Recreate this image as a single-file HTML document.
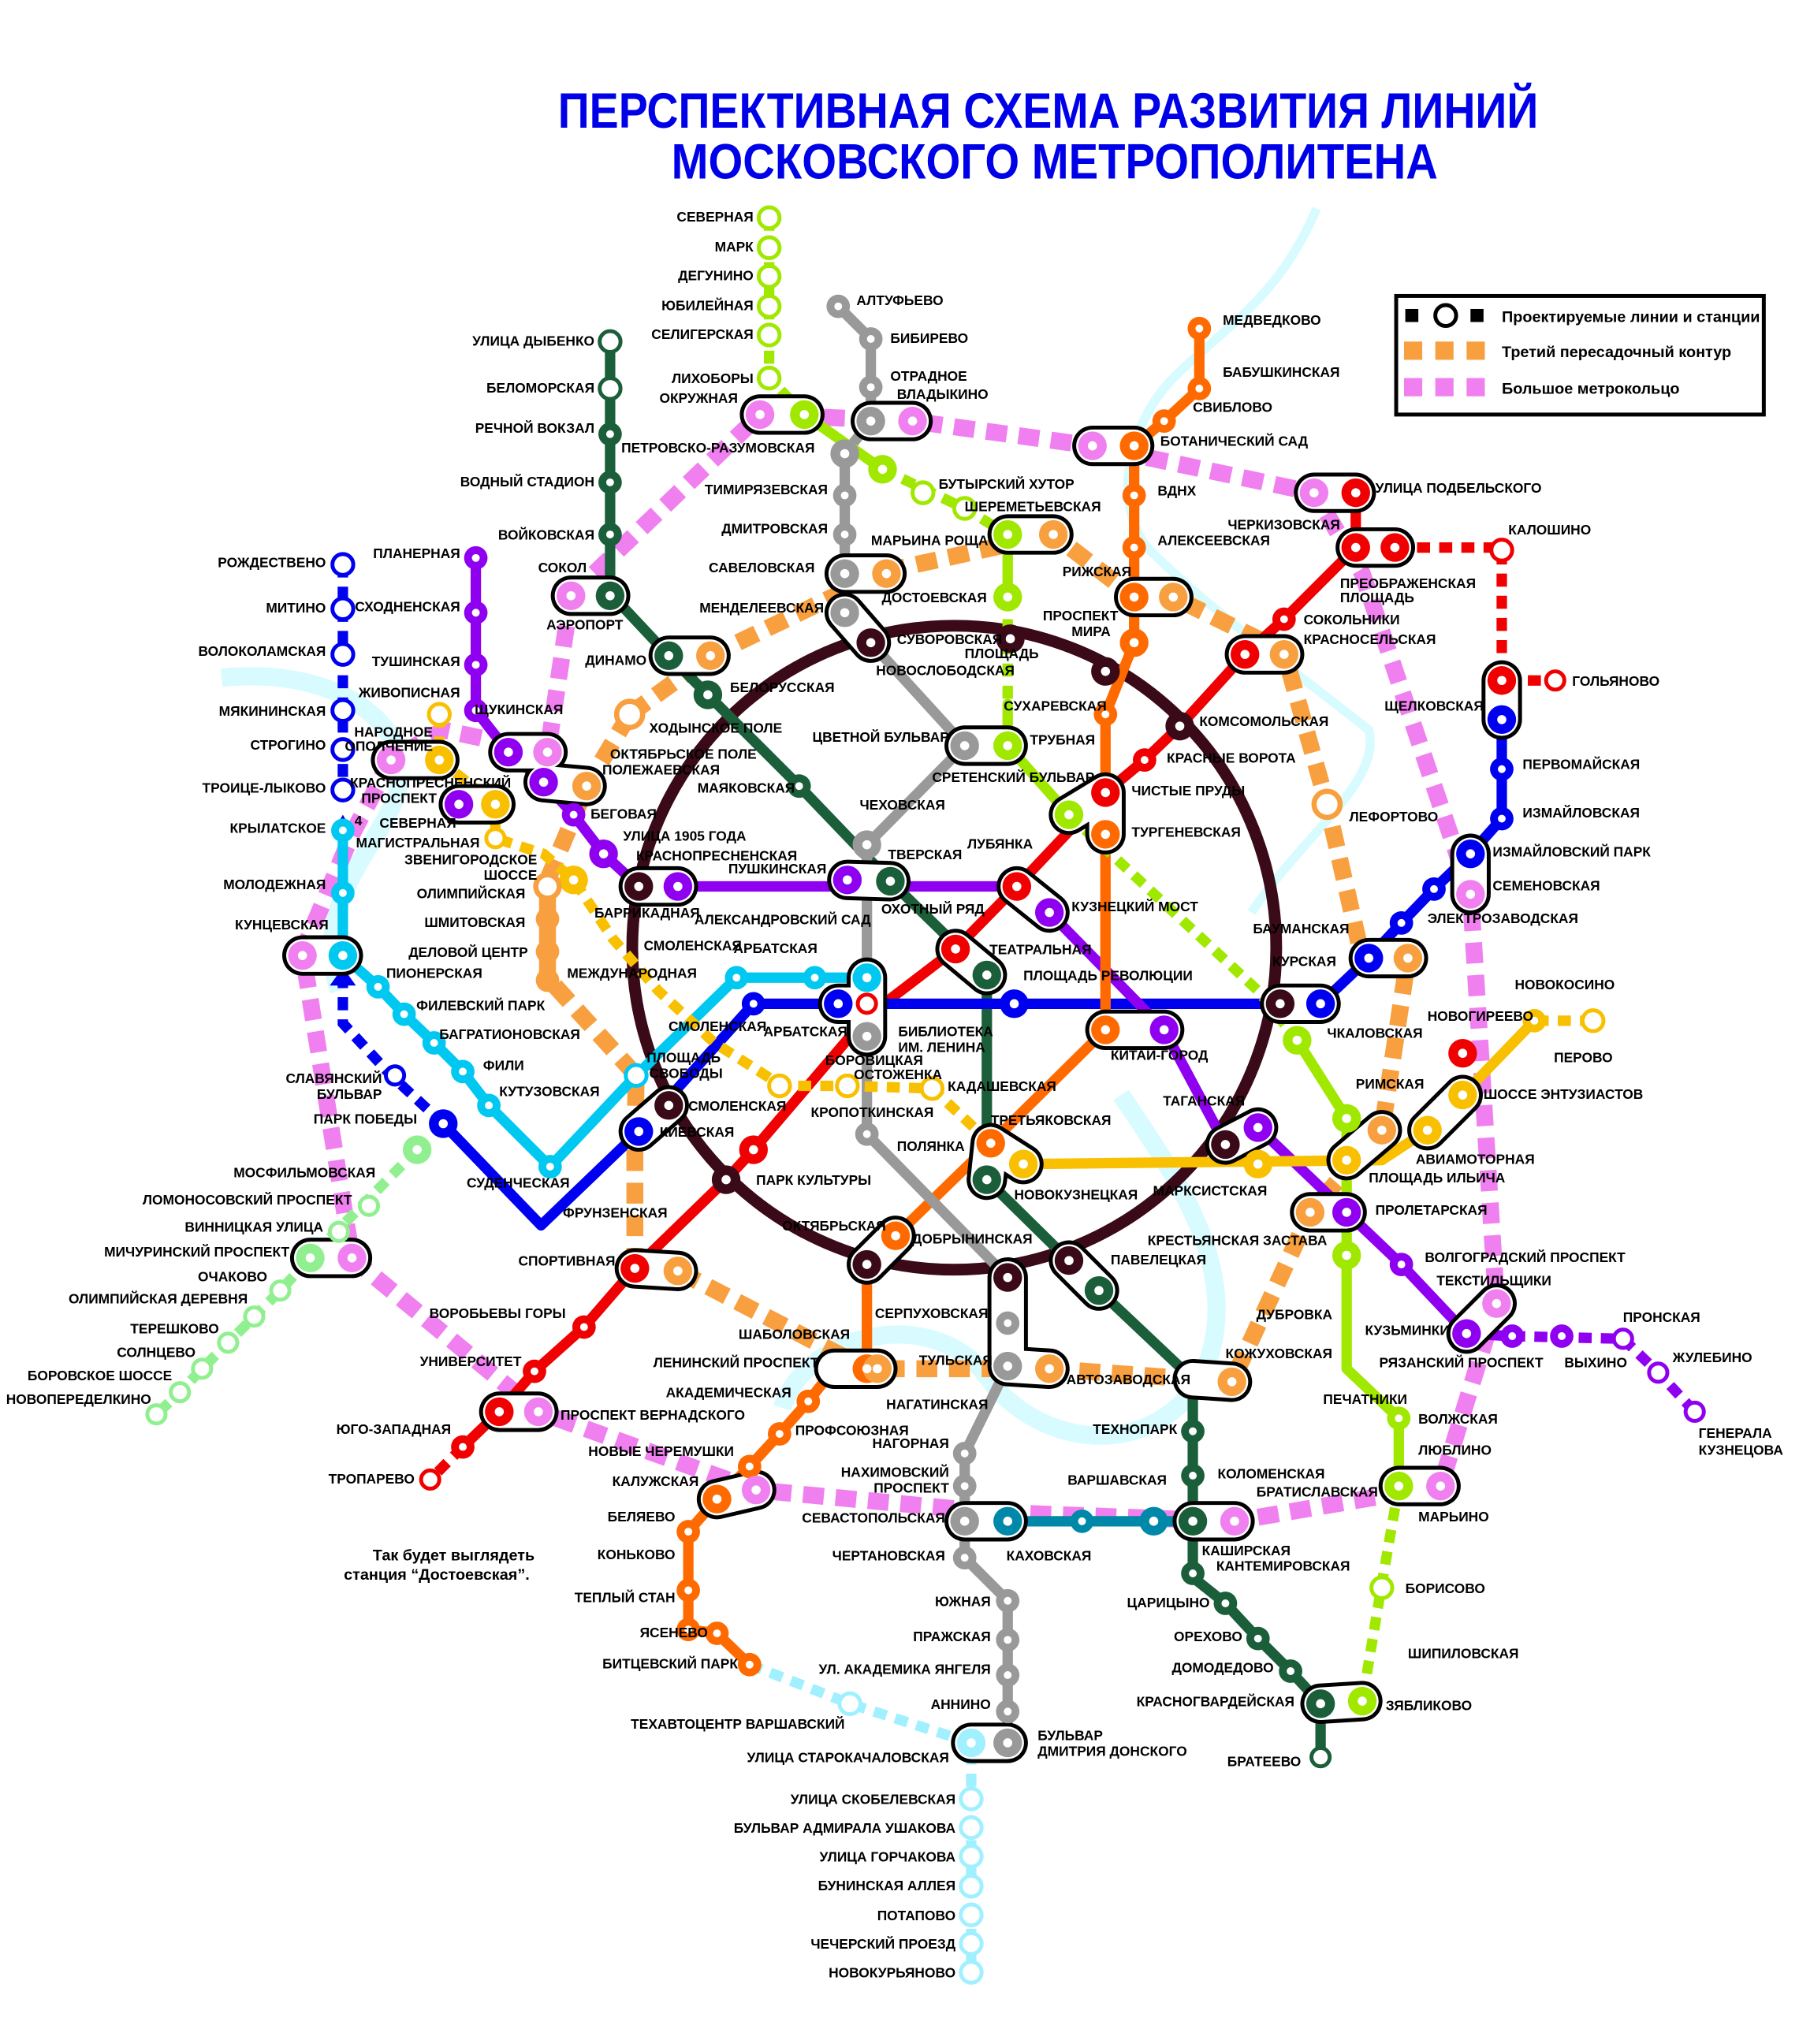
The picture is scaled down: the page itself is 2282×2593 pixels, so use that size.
<!DOCTYPE html>
<html><head><meta charset="utf-8">
<style>
html,body{margin:0;padding:0;background:#fff}
svg{display:block}
.l{fill:none;stroke-width:8;stroke-linecap:round;stroke-linejoin:round}
.d{fill:none;stroke-width:8;stroke-dasharray:10 7}
.rg{fill:none;stroke-width:13;stroke-dasharray:16 9}
text{font-family:"Liberation Sans Narrow","Liberation Sans",sans-serif;font-weight:bold;font-size:10.5px;fill:#000}
.e{text-anchor:end}
.tr{fill:none;stroke:#000;stroke-width:31;stroke-linecap:round;stroke-linejoin:round}
.tw{fill:none;stroke:#fff;stroke-width:25;stroke-linecap:round;stroke-linejoin:round}
.w{fill:#fff}
</style></head><body>
<svg width="2282" height="2593" viewBox="0 0 1380 1568" xmlns="http://www.w3.org/2000/svg">
<!-- river -->
<path d="M1010,160 C980,230 940,250 900,290 C870,320 850,380 880,420 C930,470 1000,520 1050,560 C1060,600 1000,640 960,700" fill="none" stroke="#d8fbff" stroke-width="7"/>
<path d="M170,520 C260,510 330,560 300,620 C280,660 240,700 260,760 M860,840 C900,900 960,980 920,1060 C880,1120 800,1110 760,1060 M760,1060 C720,1000 620,1020 600,1080" fill="none" stroke="#d8fbff" stroke-width="14"/>

<!-- Title -->
<text x="428" y="98" textLength="752" lengthAdjust="spacingAndGlyphs" style="font-size:38px;fill:#0000e8;font-family:'Liberation Sans Narrow','Liberation Sans',sans-serif">ПЕРСПЕКТИВНАЯ СХЕМА РАЗВИТИЯ ЛИНИЙ</text>
<text x="515" y="137" textLength="588" lengthAdjust="spacingAndGlyphs" style="font-size:38px;fill:#0000e8;font-family:'Liberation Sans Narrow','Liberation Sans',sans-serif">МОСКОВСКОГО МЕТРОПОЛИТЕНА</text>

<!-- Legend -->
<rect x="1071" y="227" width="282" height="91" fill="#fff" stroke="#000" stroke-width="3"/>
<rect x="1078" y="237" width="10" height="10" fill="#000"/><circle cx="1109" cy="242" r="8" fill="#fff" stroke="#000" stroke-width="3"/><rect x="1128" y="237" width="10" height="10" fill="#000"/>
<text x="1152" y="247" style="font-size:12px;font-family:'Liberation Sans',sans-serif">Проектируемые линии и станции</text>
<rect x="1077" y="262" width="14" height="14" fill="#f8a040"/><rect x="1101" y="262" width="14" height="14" fill="#f8a040"/><rect x="1125" y="262" width="14" height="14" fill="#f8a040"/>
<text x="1152" y="274" style="font-size:12px;font-family:'Liberation Sans',sans-serif">Третий пересадочный контур</text>
<rect x="1077" y="290" width="14" height="14" fill="#f080f0"/><rect x="1101" y="290" width="14" height="14" fill="#f080f0"/><rect x="1125" y="290" width="14" height="14" fill="#f080f0"/>
<text x="1152" y="302" style="font-size:12px;font-family:'Liberation Sans',sans-serif">Большое метрокольцо</text>

<!-- Big ring (pink) -->
<path class="rg" stroke="#f080f0" d="M438,457 L583,318 L700,323 L838,342 L1008,378 L1045,440 L1128,686 L1148,1000 L1105,1140 L947,1167 L760,1160 L580,1143 L413,1083 L270,965 L232,730 L270,640 L300,583 L340,560 L420,577 L438,457"/>
<!-- Third contour -->
<path class="rg" stroke="#f8a040" d="M483,548 L545,503 L680,438 L808,410 L870,458 L900,458 L985,500 L1018,617 L1045,735 L1080,735 L1060,867 L1005,930 L945,1060 L805,1050 L665,1050 L520,975 L487,973 L487,880 L488,825 L420,750 L420,675 L450,603 L483,548"/>

<!-- Brown ring -->
<circle cx="732" cy="727" r="247" fill="none" stroke="#3a0a18" stroke-width="9"/>

<!-- Lines -->
<path class="l" stroke="#1b5e3a" d="M468,262 L468,455 L513,503 L543,533 L613,603 L683,676 L757,748 L757,905 L820,967 L843,990 L915,1058 L915,1170 L915,1210 L940,1230 L965,1257 L990,1282 L1013,1307 L1013,1348"/>
<path class="l" stroke="#f00000" d="M1040,378 L1040,420 L985,475 L955,502 L905,557 L878,583 L848,608 L780,680 L733,728 L665,780 L578,882 L557,905 L487,973 L448,1018 L410,1052 L383,1083 L355,1110"/>
<path class="d" stroke="#f00000" d="M1070,420 L1152,420 L1152,522 L1193,522 M355,1110 L330,1135"/>
<path class="l" stroke="#0000f0" d="M1152,522 L1152,590 L1152,628 L1128,655 L1100,682 L1075,708 L1050,735 L1013,770 L578,770 L490,868 L415,940 L340,862"/>
<path class="d" stroke="#0000f0" d="M340,862 L300,825 L263,785 L263,755 M263,433 L263,608"/>
<path d="M263,742 l-10,14 h20z" fill="#0000f0"/>
<path d="M263,625 l-7,12 h14z" fill="#0000f0"/>
<path class="l" stroke="#00c8f0" d="M263,637 L263,733 L290,757 L310,778 L333,800 L355,822 L375,848 L422,895 L488,825 L565,750 L625,750 L665,750"/>
<path class="l" stroke="#9000f0" d="M365,428 L365,545 L390,577 L417,600 L440,625 L463,655 L490,680 L650,680 L780,680 L805,700 L893,790 L940,878 L965,865 L1033,930 L1075,970 L1125,1023 L1160,1025"/>
<path class="d" stroke="#9000f0" d="M1160,1025 L1245,1027 L1272,1053 L1300,1083"/>
<path class="l" stroke="#ff6a00" d="M920,252 L920,298 L893,323 L870,342 L870,493 L848,548 L848,790 L760,877 L687,948 L665,970 L665,1050 L640,1050 L620,1075 L598,1100 L575,1125 L550,1150 L528,1175 L528,1250 L550,1253 L575,1277"/>
<path class="l" stroke="#999" d="M643,235 L668,260 L668,323 L648,348 L648,470 L668,493 L740,572 L665,648 L665,870 L773,980 L773,1048 L740,1115 L740,1195 L773,1228 L773,1337"/>
<path class="l" stroke="#a0e800" d="M617,318 L677,360 M773,410 L773,458 M773,540 L773,572 L820,625 M995,798 L1033,858 L1033,1050 L1073,1088 L1073,1140"/>
<path class="d" stroke="#a0e800" d="M590,167 L590,290 L617,318 M677,360 L740,390 L773,410 M773,458 L773,540 M820,625 L965,760 L995,798 M1073,1140 L1060,1215 L1045,1305"/>
<path class="l" stroke="#f8c000" d="M1177,783 L1122,840 L1095,867 L1060,890 L785,893 L760,877"/>
<path class="d" stroke="#f8c000" d="M1222,783 L1177,783 M337,548 L337,583 L380,617 L380,643 L417,655 L440,675 L470,720 L505,760 L548,800 L600,833 L650,833 L715,835 L760,877"/>
<path class="l" stroke="#0088a8" d="M740,1167 L915,1167"/>
<path class="d" stroke="#a0f0ff" d="M575,1277 L652,1307 L745,1337 L745,1512"/>
<path class="d" stroke="#90f090" d="M320,882 L238,965 L215,990 L195,1010 L175,1030 L155,1050 L138,1068 L120,1085"/>

<!-- Transfers (black outlines) -->
<g>
<path class="tr" d="M583,318 L617,318 M668,323 L700,323 M838,342 L870,342 M1008,378 L1040,378 M1040,420 L1070,420 M648,440 L680,440 M773,410 L808,410 M870,458 L900,458 M955,502 L985,502 M513,503 L545,503 M438,457 L468,457 M390,577 L420,577 M417,600 L450,603 M300,583 L337,583 M352,617 L380,617 M490,680 L520,680 M650,675 L683,676 M740,572 L773,572 M820,625 L848,608 M848,640 L848,608 M780,680 L805,700 M733,728 L757,748 M665,750 L665,795 M643,770 L665,770 M982,770 L1013,770 M1050,735 L1080,735 M893,790 L848,790 M940,878 L965,865 M760,877 L785,893 M757,905 L760,877 M668,493 L648,470 M1125,1023 L1148,1000 M1033,930 L1005,930 M1033,890 L1060,867 M1095,867 L1122,840 M687,948 L665,970 M773,980 L773,1048 M820,967 L843,990 M915,1058 L945,1060 M640,1050 L673,1050 M773,1048 L805,1050 M550,1150 L580,1143 M383,1083 L413,1083 M232,733 L263,733 M238,965 L270,965 M487,973 L520,975 M490,868 L513,848 M1073,1140 L1105,1140 M915,1167 L947,1167 M740,1167 L773,1167 M1013,1307 L1045,1305 M745,1337 L773,1337 M1152,522 L1152,552 M1128,655 L1128,686"/>
<path class="tw" d="M583,318 L617,318 M668,323 L700,323 M838,342 L870,342 M1008,378 L1040,378 M1040,420 L1070,420 M648,440 L680,440 M773,410 L808,410 M870,458 L900,458 M955,502 L985,502 M513,503 L545,503 M438,457 L468,457 M390,577 L420,577 M417,600 L450,603 M300,583 L337,583 M352,617 L380,617 M490,680 L520,680 M650,675 L683,676 M740,572 L773,572 M820,625 L848,608 M848,640 L848,608 M780,680 L805,700 M733,728 L757,748 M665,750 L665,795 M643,770 L665,770 M982,770 L1013,770 M1050,735 L1080,735 M893,790 L848,790 M940,878 L965,865 M760,877 L785,893 M757,905 L760,877 M668,493 L648,470 M1125,1023 L1148,1000 M1033,930 L1005,930 M1033,890 L1060,867 M1095,867 L1122,840 M687,948 L665,970 M773,980 L773,1048 M820,967 L843,990 M915,1058 L945,1060 M640,1050 L673,1050 M773,1048 L805,1050 M550,1150 L580,1143 M383,1083 L413,1083 M232,733 L263,733 M238,965 L270,965 M487,973 L520,975 M490,868 L513,848 M1073,1140 L1105,1140 M915,1167 L947,1167 M740,1167 L773,1167 M1013,1307 L1045,1305 M745,1337 L773,1337 M1152,522 L1152,552 M1128,655 L1128,686"/>
</g>

<!-- Stations -->
<g stroke-width="0">
<g fill="#1b5e3a"><circle cx="468" cy="333" r="9"/><circle cx="468" cy="370" r="9"/><circle cx="468" cy="410" r="9"/><circle cx="468" cy="457" r="11"/><circle cx="513" cy="503" r="11"/><circle cx="543" cy="533" r="11"/><circle cx="613" cy="603" r="9"/><circle cx="683" cy="676" r="11"/><circle cx="757" cy="748" r="11"/><circle cx="757" cy="905" r="11"/><circle cx="843" cy="990" r="11"/><circle cx="915" cy="1098" r="9"/><circle cx="915" cy="1132" r="9"/><circle cx="915" cy="1167" r="11"/><circle cx="915" cy="1207" r="9"/><circle cx="940" cy="1230" r="9"/><circle cx="965" cy="1257" r="9"/><circle cx="990" cy="1282" r="9"/><circle cx="1013" cy="1307" r="11"/></g>
<g fill="#fff" stroke="#1b5e3a" stroke-width="3"><circle cx="468" cy="262" r="8"/><circle cx="468" cy="298" r="8"/><circle cx="1013" cy="1348" r="7"/></g>
<g fill="#f00000"><circle cx="1040" cy="378" r="11"/><circle cx="1040" cy="420" r="11"/><circle cx="1070" cy="420" r="11"/><circle cx="985" cy="475" r="9"/><circle cx="955" cy="502" r="11"/><circle cx="878" cy="583" r="9"/><circle cx="848" cy="608" r="11"/><circle cx="780" cy="680" r="11"/><circle cx="733" cy="728" r="11"/><circle cx="578" cy="882" r="11"/><circle cx="487" cy="973" r="11"/><circle cx="448" cy="1018" r="9"/><circle cx="410" cy="1052" r="9"/><circle cx="383" cy="1083" r="11"/><circle cx="355" cy="1110" r="9"/><circle cx="1152" cy="522" r="11"/><circle cx="1122" cy="808" r="11"/></g>
<g fill="#fff" stroke="#f00000" stroke-width="3"><circle cx="1152" cy="422" r="8"/><circle cx="1193" cy="522" r="7"/><circle cx="330" cy="1135" r="7"/><circle cx="665" cy="770" r="7"/></g>
<g fill="#0000f0"><circle cx="1152" cy="552" r="11"/><circle cx="1152" cy="590" r="9"/><circle cx="1152" cy="628" r="9"/><circle cx="1128" cy="655" r="11"/><circle cx="1100" cy="682" r="9"/><circle cx="1075" cy="708" r="9"/><circle cx="1050" cy="735" r="11"/><circle cx="1013" cy="770" r="11"/><circle cx="778" cy="770" r="11"/><circle cx="643" cy="770" r="11"/><circle cx="578" cy="770" r="9"/><circle cx="490" cy="868" r="11"/><circle cx="340" cy="862" r="11"/></g>
<g fill="#fff" stroke="#0000f0" stroke-width="3"><circle cx="263" cy="433" r="8"/><circle cx="263" cy="467" r="8"/><circle cx="263" cy="502" r="8"/><circle cx="263" cy="545" r="8"/><circle cx="263" cy="575" r="8"/><circle cx="263" cy="606" r="8"/><circle cx="303" cy="825" r="7"/></g>
<g fill="#00c8f0"><circle cx="263" cy="637" r="9"/><circle cx="263" cy="685" r="9"/><circle cx="263" cy="733" r="11"/><circle cx="290" cy="757" r="9"/><circle cx="310" cy="778" r="9"/><circle cx="333" cy="800" r="9"/><circle cx="355" cy="822" r="9"/><circle cx="375" cy="848" r="9"/><circle cx="422" cy="895" r="9"/><circle cx="565" cy="750" r="9"/><circle cx="625" cy="750" r="9"/><circle cx="665" cy="750" r="11"/></g>
<g fill="#fff" stroke="#00c8f0" stroke-width="3"><circle cx="488" cy="825" r="8"/></g>
<g fill="#9000f0"><circle cx="365" cy="428" r="9"/><circle cx="365" cy="470" r="9"/><circle cx="365" cy="510" r="9"/><circle cx="365" cy="545" r="9"/><circle cx="390" cy="577" r="11"/><circle cx="417" cy="600" r="11"/><circle cx="440" cy="625" r="9"/><circle cx="463" cy="655" r="11"/><circle cx="520" cy="680" r="11"/><circle cx="650" cy="675" r="11"/><circle cx="805" cy="700" r="11"/><circle cx="893" cy="790" r="11"/><circle cx="965" cy="865" r="11"/><circle cx="1033" cy="930" r="11"/><circle cx="1075" cy="970" r="9"/><circle cx="1125" cy="1023" r="11"/><circle cx="1160" cy="1025" r="9"/><circle cx="1198" cy="1025" r="9"/><circle cx="352" cy="617" r="11"/></g>
<g fill="#fff" stroke="#9000f0" stroke-width="3"><circle cx="1245" cy="1027" r="7"/><circle cx="1272" cy="1053" r="7"/><circle cx="1300" cy="1083" r="7"/></g>
<g fill="#ff6a00"><circle cx="920" cy="252" r="9"/><circle cx="920" cy="298" r="9"/><circle cx="893" cy="323" r="9"/><circle cx="870" cy="342" r="11"/><circle cx="870" cy="380" r="9"/><circle cx="870" cy="420" r="9"/><circle cx="870" cy="458" r="11"/><circle cx="870" cy="493" r="11"/><circle cx="848" cy="548" r="9"/><circle cx="848" cy="640" r="11"/><circle cx="848" cy="790" r="11"/><circle cx="760" cy="877" r="11"/><circle cx="687" cy="948" r="11"/><circle cx="665" cy="1050" r="11"/><circle cx="620" cy="1075" r="9"/><circle cx="598" cy="1100" r="9"/><circle cx="575" cy="1125" r="9"/><circle cx="550" cy="1150" r="11"/><circle cx="528" cy="1175" r="9"/><circle cx="528" cy="1220" r="9"/><circle cx="528" cy="1250" r="9"/><circle cx="550" cy="1253" r="9"/><circle cx="575" cy="1277" r="9"/></g>
<g fill="#999"><circle cx="643" cy="235" r="9"/><circle cx="668" cy="260" r="9"/><circle cx="668" cy="297" r="9"/><circle cx="668" cy="323" r="11"/><circle cx="648" cy="348" r="11"/><circle cx="648" cy="380" r="9"/><circle cx="648" cy="410" r="9"/><circle cx="648" cy="440" r="11"/><circle cx="648" cy="470" r="11"/><circle cx="740" cy="572" r="11"/><circle cx="665" cy="648" r="11"/><circle cx="665" cy="795" r="11"/><circle cx="665" cy="870" r="9"/><circle cx="773" cy="1015" r="9"/><circle cx="773" cy="1048" r="11"/><circle cx="740" cy="1115" r="9"/><circle cx="740" cy="1140" r="9"/><circle cx="740" cy="1167" r="11"/><circle cx="740" cy="1195" r="9"/><circle cx="773" cy="1228" r="9"/><circle cx="773" cy="1258" r="9"/><circle cx="773" cy="1285" r="9"/><circle cx="773" cy="1313" r="9"/><circle cx="773" cy="1337" r="11"/></g>
<g fill="#a0e800"><circle cx="617" cy="318" r="11"/><circle cx="677" cy="360" r="11"/><circle cx="773" cy="410" r="11"/><circle cx="773" cy="458" r="11"/><circle cx="773" cy="572" r="11"/><circle cx="820" cy="625" r="11"/><circle cx="995" cy="798" r="11"/><circle cx="1033" cy="858" r="11"/><circle cx="1033" cy="963" r="11"/><circle cx="1073" cy="1088" r="9"/><circle cx="1073" cy="1140" r="11"/><circle cx="1045" cy="1305" r="11"/></g>
<g fill="#fff" stroke="#a0e800" stroke-width="3"><circle cx="590" cy="167" r="8"/><circle cx="590" cy="190" r="8"/><circle cx="590" cy="212" r="8"/><circle cx="590" cy="235" r="8"/><circle cx="590" cy="257" r="8"/><circle cx="590" cy="290" r="8"/><circle cx="708" cy="378" r="8"/><circle cx="740" cy="390" r="8"/><circle cx="1060" cy="1218" r="8"/></g>
<g fill="#f8c000"><circle cx="1177" cy="783" r="9"/><circle cx="1122" cy="840" r="11"/><circle cx="1095" cy="867" r="11"/><circle cx="1033" cy="890" r="11"/><circle cx="965" cy="893" r="11"/><circle cx="785" cy="893" r="11"/><circle cx="337" cy="583" r="11"/><circle cx="380" cy="617" r="11"/><circle cx="440" cy="675" r="11"/></g>
<g fill="#fff" stroke="#f8c000" stroke-width="3"><circle cx="1222" cy="783" r="8"/><circle cx="337" cy="548" r="8"/><circle cx="380" cy="643" r="7"/><circle cx="598" cy="833" r="8"/><circle cx="650" cy="833" r="8"/><circle cx="715" cy="835" r="8"/></g>
<g fill="#0088a8"><circle cx="773" cy="1167" r="11"/><circle cx="830" cy="1167" r="9"/><circle cx="885" cy="1167" r="11"/></g>
<g fill="#fff" stroke="#a0f0ff" stroke-width="3"><circle cx="652" cy="1307" r="8"/><circle cx="745" cy="1380" r="8"/><circle cx="745" cy="1402" r="8"/><circle cx="745" cy="1424" r="8"/><circle cx="745" cy="1447" r="8"/><circle cx="745" cy="1469" r="8"/><circle cx="745" cy="1491" r="8"/><circle cx="745" cy="1513" r="8"/></g>
<circle cx="745" cy="1337" r="11" fill="#a0f0ff"/>
<g fill="#90f090"><circle cx="320" cy="882" r="11"/><circle cx="238" cy="965" r="11"/></g>
<g fill="#fff" stroke="#90f090" stroke-width="3"><circle cx="260" cy="945" r="7"/><circle cx="283" cy="925" r="7"/><circle cx="215" cy="990" r="7"/><circle cx="195" cy="1010" r="7"/><circle cx="175" cy="1030" r="7"/><circle cx="155" cy="1050" r="7"/><circle cx="138" cy="1068" r="7"/><circle cx="120" cy="1085" r="7"/></g>
<g fill="#f080f0"><circle cx="583" cy="318" r="11"/><circle cx="700" cy="323" r="11"/><circle cx="838" cy="342" r="11"/><circle cx="1008" cy="378" r="11"/><circle cx="438" cy="457" r="11"/><circle cx="420" cy="577" r="11"/><circle cx="300" cy="583" r="11"/><circle cx="232" cy="733" r="11"/><circle cx="270" cy="965" r="11"/><circle cx="413" cy="1083" r="11"/><circle cx="580" cy="1143" r="11"/><circle cx="947" cy="1167" r="11"/><circle cx="1105" cy="1140" r="11"/><circle cx="1148" cy="1000" r="11"/><circle cx="1128" cy="686" r="11"/></g>
<g fill="#f8a040"><circle cx="680" cy="440" r="11"/><circle cx="808" cy="410" r="11"/><circle cx="900" cy="458" r="11"/><circle cx="985" cy="502" r="11"/><circle cx="545" cy="503" r="11"/><circle cx="450" cy="603" r="11"/><circle cx="420" cy="705" r="9"/><circle cx="420" cy="730" r="9"/><circle cx="420" cy="752" r="9"/><circle cx="1080" cy="735" r="11"/><circle cx="1060" cy="867" r="11"/><circle cx="1005" cy="930" r="11"/><circle cx="945" cy="1060" r="11"/><circle cx="805" cy="1050" r="11"/><circle cx="673" cy="1050" r="11"/><circle cx="520" cy="975" r="11"/></g>
<g fill="#fff" stroke="#f8a040" stroke-width="4"><circle cx="483" cy="548" r="10"/><circle cx="1018" cy="617" r="10"/><circle cx="420" cy="680" r="9"/></g>
<g fill="#3a0a18"><circle cx="668" cy="493" r="11"/><circle cx="775" cy="490" r="11"/><circle cx="848" cy="515" r="11"/><circle cx="905" cy="557" r="11"/><circle cx="982" cy="770" r="11"/><circle cx="940" cy="878" r="11"/><circle cx="820" cy="967" r="11"/><circle cx="773" cy="980" r="11"/><circle cx="665" cy="970" r="11"/><circle cx="557" cy="905" r="11"/><circle cx="513" cy="848" r="11"/><circle cx="490" cy="680" r="11"/></g>
<g class="w">
<circle cx="468" cy="333" r="3"/><circle cx="468" cy="370" r="3"/><circle cx="468" cy="410" r="3"/><circle cx="468" cy="457" r="3.5"/><circle cx="513" cy="503" r="3.5"/><circle cx="543" cy="533" r="3.5"/><circle cx="613" cy="603" r="3"/><circle cx="683" cy="676" r="3.5"/><circle cx="757" cy="748" r="3.5"/><circle cx="757" cy="905" r="3.5"/><circle cx="843" cy="990" r="3.5"/><circle cx="915" cy="1098" r="3"/><circle cx="915" cy="1132" r="3"/><circle cx="915" cy="1167" r="3.5"/><circle cx="915" cy="1207" r="3"/><circle cx="940" cy="1230" r="3"/><circle cx="965" cy="1257" r="3"/><circle cx="990" cy="1282" r="3"/><circle cx="1013" cy="1307" r="3.5"/>
<circle cx="1040" cy="378" r="3.5"/><circle cx="1040" cy="420" r="3.5"/><circle cx="1070" cy="420" r="3.5"/><circle cx="985" cy="475" r="3"/><circle cx="955" cy="502" r="3.5"/><circle cx="878" cy="583" r="3"/><circle cx="848" cy="608" r="3.5"/><circle cx="780" cy="680" r="3.5"/><circle cx="733" cy="728" r="3.5"/><circle cx="578" cy="882" r="3.5"/><circle cx="487" cy="973" r="3.5"/><circle cx="448" cy="1018" r="3"/><circle cx="410" cy="1052" r="3"/><circle cx="383" cy="1083" r="3.5"/><circle cx="355" cy="1110" r="3"/><circle cx="1152" cy="522" r="3.5"/><circle cx="1122" cy="808" r="3.5"/>
<circle cx="1152" cy="552" r="3.5"/><circle cx="1152" cy="590" r="3"/><circle cx="1152" cy="628" r="3"/><circle cx="1128" cy="655" r="3.5"/><circle cx="1100" cy="682" r="3"/><circle cx="1075" cy="708" r="3"/><circle cx="1050" cy="735" r="3.5"/><circle cx="1013" cy="770" r="3.5"/><circle cx="778" cy="770" r="3.5"/><circle cx="643" cy="770" r="3.5"/><circle cx="578" cy="770" r="3"/><circle cx="490" cy="868" r="3.5"/><circle cx="340" cy="862" r="3.5"/>
<circle cx="263" cy="637" r="3"/><circle cx="263" cy="685" r="3"/><circle cx="263" cy="733" r="3.5"/><circle cx="290" cy="757" r="3"/><circle cx="310" cy="778" r="3"/><circle cx="333" cy="800" r="3"/><circle cx="355" cy="822" r="3"/><circle cx="375" cy="848" r="3"/><circle cx="422" cy="895" r="3"/><circle cx="565" cy="750" r="3"/><circle cx="625" cy="750" r="3"/><circle cx="665" cy="750" r="3.5"/>
<circle cx="365" cy="428" r="3"/><circle cx="365" cy="470" r="3"/><circle cx="365" cy="510" r="3"/><circle cx="365" cy="545" r="3"/><circle cx="390" cy="577" r="3.5"/><circle cx="417" cy="600" r="3.5"/><circle cx="440" cy="625" r="3"/><circle cx="463" cy="655" r="3.5"/><circle cx="520" cy="680" r="3.5"/><circle cx="650" cy="675" r="3.5"/><circle cx="805" cy="700" r="3.5"/><circle cx="893" cy="790" r="3.5"/><circle cx="965" cy="865" r="3.5"/><circle cx="1033" cy="930" r="3.5"/><circle cx="1075" cy="970" r="3"/><circle cx="1125" cy="1023" r="3.5"/><circle cx="1160" cy="1025" r="3"/><circle cx="1198" cy="1025" r="3"/><circle cx="352" cy="617" r="3.5"/>
<circle cx="920" cy="252" r="3"/><circle cx="920" cy="298" r="3"/><circle cx="893" cy="323" r="3"/><circle cx="870" cy="342" r="3.5"/><circle cx="870" cy="380" r="3"/><circle cx="870" cy="420" r="3"/><circle cx="870" cy="458" r="3.5"/><circle cx="870" cy="493" r="3.5"/><circle cx="848" cy="548" r="3"/><circle cx="848" cy="640" r="3.5"/><circle cx="848" cy="790" r="3.5"/><circle cx="760" cy="877" r="3.5"/><circle cx="687" cy="948" r="3.5"/><circle cx="665" cy="1050" r="3.5"/><circle cx="620" cy="1075" r="3"/><circle cx="598" cy="1100" r="3"/><circle cx="575" cy="1125" r="3"/><circle cx="550" cy="1150" r="3.5"/><circle cx="528" cy="1175" r="3"/><circle cx="528" cy="1220" r="3"/><circle cx="528" cy="1250" r="3"/><circle cx="550" cy="1253" r="3"/><circle cx="575" cy="1277" r="3"/>
<circle cx="643" cy="235" r="3"/><circle cx="668" cy="260" r="3"/><circle cx="668" cy="297" r="3"/><circle cx="668" cy="323" r="3.5"/><circle cx="648" cy="348" r="3.5"/><circle cx="648" cy="380" r="3"/><circle cx="648" cy="410" r="3"/><circle cx="648" cy="440" r="3.5"/><circle cx="648" cy="470" r="3.5"/><circle cx="740" cy="572" r="3.5"/><circle cx="665" cy="648" r="3.5"/><circle cx="665" cy="795" r="3.5"/><circle cx="665" cy="870" r="3"/><circle cx="773" cy="1015" r="3"/><circle cx="773" cy="1048" r="3.5"/><circle cx="740" cy="1115" r="3"/><circle cx="740" cy="1140" r="3"/><circle cx="740" cy="1167" r="3.5"/><circle cx="740" cy="1195" r="3"/><circle cx="773" cy="1228" r="3"/><circle cx="773" cy="1258" r="3"/><circle cx="773" cy="1285" r="3"/><circle cx="773" cy="1313" r="3"/><circle cx="773" cy="1337" r="3.5"/>
<circle cx="617" cy="318" r="3.5"/><circle cx="677" cy="360" r="3.5"/><circle cx="773" cy="410" r="3.5"/><circle cx="773" cy="458" r="3.5"/><circle cx="773" cy="572" r="3.5"/><circle cx="820" cy="625" r="3.5"/><circle cx="995" cy="798" r="3.5"/><circle cx="1033" cy="858" r="3.5"/><circle cx="1033" cy="963" r="3.5"/><circle cx="1073" cy="1088" r="3"/><circle cx="1073" cy="1140" r="3.5"/><circle cx="1045" cy="1305" r="3.5"/>
<circle cx="1177" cy="783" r="3"/><circle cx="1122" cy="840" r="3.5"/><circle cx="1095" cy="867" r="3.5"/><circle cx="1033" cy="890" r="3.5"/><circle cx="965" cy="893" r="3.5"/><circle cx="785" cy="893" r="3.5"/><circle cx="337" cy="583" r="3.5"/><circle cx="380" cy="617" r="3.5"/><circle cx="440" cy="675" r="3.5"/>
<circle cx="773" cy="1167" r="3.5"/><circle cx="830" cy="1167" r="3"/><circle cx="885" cy="1167" r="3.5"/><circle cx="745" cy="1337" r="3.5"/><circle cx="320" cy="882" r="3.5"/><circle cx="238" cy="965" r="3.5"/>
<circle cx="583" cy="318" r="3.5"/><circle cx="700" cy="323" r="3.5"/><circle cx="838" cy="342" r="3.5"/><circle cx="1008" cy="378" r="3.5"/><circle cx="438" cy="457" r="3.5"/><circle cx="420" cy="577" r="3.5"/><circle cx="300" cy="583" r="3.5"/><circle cx="232" cy="733" r="3.5"/><circle cx="270" cy="965" r="3.5"/><circle cx="413" cy="1083" r="3.5"/><circle cx="580" cy="1143" r="3.5"/><circle cx="947" cy="1167" r="3.5"/><circle cx="1105" cy="1140" r="3.5"/><circle cx="1148" cy="1000" r="3.5"/><circle cx="1128" cy="686" r="3.5"/>
<circle cx="680" cy="440" r="3.5"/><circle cx="808" cy="410" r="3.5"/><circle cx="900" cy="458" r="3.5"/><circle cx="985" cy="502" r="3.5"/><circle cx="545" cy="503" r="3.5"/><circle cx="450" cy="603" r="3.5"/><circle cx="1080" cy="735" r="3.5"/><circle cx="1060" cy="867" r="3.5"/><circle cx="1005" cy="930" r="3.5"/><circle cx="945" cy="1060" r="3.5"/><circle cx="805" cy="1050" r="3.5"/><circle cx="673" cy="1050" r="3.5"/><circle cx="520" cy="975" r="3.5"/>
<circle cx="668" cy="493" r="3.5"/><circle cx="775" cy="490" r="3.5"/><circle cx="848" cy="515" r="3.5"/><circle cx="905" cy="557" r="3.5"/><circle cx="982" cy="770" r="3.5"/><circle cx="940" cy="878" r="3.5"/><circle cx="820" cy="967" r="3.5"/><circle cx="773" cy="980" r="3.5"/><circle cx="665" cy="970" r="3.5"/><circle cx="557" cy="905" r="3.5"/><circle cx="513" cy="848" r="3.5"/><circle cx="490" cy="680" r="3.5"/>
</g>
</g>

<!-- Labels -->
<g>
<text class="e" x="578" y="170">СЕВЕРНАЯ</text>
<text class="e" x="578" y="193">МАРК</text>
<text class="e" x="578" y="215">ДЕГУНИНО</text>
<text class="e" x="578" y="238">ЮБИЛЕЙНАЯ</text>
<text class="e" x="578" y="260">СЕЛИГЕРСКАЯ</text>
<text class="e" x="578" y="294">ЛИХОБОРЫ</text>
<text class="e" x="566" y="309">ОКРУЖНАЯ</text>
<text x="657" y="234">АЛТУФЬЕВО</text>
<text x="683" y="263">БИБИРЕВО</text>
<text x="683" y="292">ОТРАДНОЕ</text>
<text x="688" y="306">ВЛАДЫКИНО</text>
<text class="e" x="625" y="347">ПЕТРОВСКО-РАЗУМОВСКАЯ</text>
<text class="e" x="635" y="379">ТИМИРЯЗЕВСКАЯ</text>
<text class="e" x="635" y="409">ДМИТРОВСКАЯ</text>
<text class="e" x="625" y="439">САВЕЛОВСКАЯ</text>
<text class="e" x="632" y="470">МЕНДЕЛЕЕВСКАЯ</text>
<text x="720" y="375">БУТЫРСКИЙ ХУТОР</text>
<text x="740" y="392">ШЕРЕМЕТЬЕВСКАЯ</text>
<text class="e" x="758" y="418">МАРЬИНА РОЩА</text>
<text class="e" x="757" y="462">ДОСТОЕВСКАЯ</text>
<text x="938" y="249">МЕДВЕДКОВО</text>
<text x="938" y="289">БАБУШКИНСКАЯ</text>
<text x="915" y="316">СВИБЛОВО</text>
<text x="890" y="342">БОТАНИЧЕСКИЙ САД</text>
<text x="888" y="380">ВДНХ</text>
<text x="888" y="418">АЛЕКСЕЕВСКАЯ</text>
<text x="815" y="442">РИЖСКАЯ</text>
<text x="800" y="476">ПРОСПЕКТ</text>
<text x="822" y="488">МИРА</text>
<text x="688" y="494">СУВОРОВСКАЯ</text>
<text x="740" y="505">ПЛОЩАДЬ</text>
<text x="672" y="518">НОВОСЛОБОДСКАЯ</text>
<text x="1055" y="378">УЛИЦА ПОДБЕЛЬСКОГО</text>
<text class="e" x="1028" y="406">ЧЕРКИЗОВСКАЯ</text>
<text x="1157" y="410">КАЛОШИНО</text>
<text x="1028" y="451">ПРЕОБРАЖЕНСКАЯ</text>
<text x="1028" y="462">ПЛОЩАДЬ</text>
<text x="1000" y="479">СОКОЛЬНИКИ</text>
<text x="1000" y="494">КРАСНОСЕЛЬСКАЯ</text>
<text x="1206" y="526">ГОЛЬЯНОВО</text>
<text class="e" x="1138" y="545">ЩЕЛКОВСКАЯ</text>
<text x="920" y="557">КОМСОМОЛЬСКАЯ</text>
<text x="895" y="585">КРАСНЫЕ ВОРОТА</text>
<text x="1168" y="590">ПЕРВОМАЙСКАЯ</text>
<text x="1168" y="627">ИЗМАЙЛОВСКАЯ</text>
<text x="1145" y="657">ИЗМАЙЛОВСКИЙ ПАРК</text>
<text x="1145" y="683">СЕМЕНОВСКАЯ</text>
<text x="1095" y="708">ЭЛЕКТРОЗАВОДСКАЯ</text>
<text x="868" y="610">ЧИСТЫЕ ПРУДЫ</text>
<text x="868" y="642">ТУРГЕНЕВСКАЯ</text>
<text x="1035" y="630">ЛЕФОРТОВО</text>
<text x="770" y="545">СУХАРЕВСКАЯ</text>
<text x="790" y="571">ТРУБНАЯ</text>
<text class="e" x="728" y="569">ЦВЕТНОЙ БУЛЬВАР</text>
<text x="715" y="600">СРЕТЕНСКИЙ БУЛЬВАР</text>
<text class="e" x="725" y="621">ЧЕХОВСКАЯ</text>
<text x="742" y="651">ЛУБЯНКА</text>
<text class="e" x="738" y="659">ТВЕРСКАЯ</text>
<text class="e" x="634" y="670">ПУШКИНСКАЯ</text>
<text x="822" y="699">КУЗНЕЦКИЙ МОСТ</text>
<text x="676" y="701">ОХОТНЫЙ РЯД</text>
<text x="759" y="732">ТЕАТРАЛЬНАЯ</text>
<text x="785" y="752">ПЛОЩАДЬ РЕВОЛЮЦИИ</text>
<text class="e" x="668" y="709">АЛЕКСАНДРОВСКИЙ САД</text>
<text class="e" x="1035" y="716">БАУМАНСКАЯ</text>
<text class="e" x="1025" y="741">КУРСКАЯ</text>
<text x="1162" y="759">НОВОКОСИНО</text>
<text x="1095" y="783">НОВОГИРЕЕВО</text>
<text x="1192" y="815">ПЕРОВО</text>
<text x="1138" y="843">ШОССЕ ЭНТУЗИАСТОВ</text>
<text x="1018" y="796">ЧКАЛОВСКАЯ</text>
<text x="1040" y="835">РИМСКАЯ</text>
<text x="852" y="813">КИТАЙ-ГОРОД</text>
<text class="e" x="955" y="848">ТАГАНСКАЯ</text>
<text x="1086" y="893">АВИАМОТОРНАЯ</text>
<text x="1050" y="907">ПЛОЩАДЬ ИЛЬИЧА</text>
<text x="1055" y="932">ПРОЛЕТАРСКАЯ</text>
<text class="e" x="972" y="917">МАРКСИСТСКАЯ</text>
<text class="e" x="1018" y="955">КРЕСТЬЯНСКАЯ ЗАСТАВА</text>
<text x="1093" y="968">ВОЛГОГРАДСКИЙ ПРОСПЕКТ</text>
<text x="1102" y="986">ТЕКСТИЛЬЩИКИ</text>
<text class="e" x="1022" y="1012">ДУБРОВКА</text>
<text class="e" x="1112" y="1024">КУЗЬМИНКИ</text>
<text x="1058" y="1049">РЯЗАНСКИЙ ПРОСПЕКТ</text>
<text class="e" x="1022" y="1042">КОЖУХОВСКАЯ</text>
<text x="1200" y="1049">ВЫХИНО</text>
<text x="1245" y="1014">ПРОНСКАЯ</text>
<text x="1283" y="1045">ЖУЛЕБИНО</text>
<text x="1303" y="1103">ГЕНЕРАЛА</text>
<text x="1303" y="1116">КУЗНЕЦОВА</text>
<text x="1015" y="1077">ПЕЧАТНИКИ</text>
<text x="1088" y="1092">ВОЛЖСКАЯ</text>
<text x="1088" y="1116">ЛЮБЛИНО</text>
<text class="e" x="1057" y="1148">БРАТИСЛАВСКАЯ</text>
<text x="1088" y="1167">МАРЬИНО</text>
<text x="1078" y="1222">БОРИСОВО</text>
<text x="1080" y="1272">ШИПИЛОВСКАЯ</text>
<text x="1063" y="1312">ЗЯБЛИКОВО</text>
<text class="e" x="993" y="1309">КРАСНОГВАРДЕЙСКАЯ</text>
<text class="e" x="998" y="1355">БРАТЕЕВО</text>
<text class="e" x="977" y="1283">ДОМОДЕДОВО</text>
<text class="e" x="953" y="1259">ОРЕХОВО</text>
<text class="e" x="928" y="1233">ЦАРИЦЫНО</text>
<text x="934" y="1134">КОЛОМЕНСКАЯ</text>
<text class="e" x="903" y="1100">ТЕХНОПАРК</text>
<text class="e" x="895" y="1139">ВАРШАВСКАЯ</text>
<text x="922" y="1193">КАШИРСКАЯ</text>
<text x="933" y="1205">КАНТЕМИРОВСКАЯ</text>
<text x="852" y="970">ПАВЕЛЕЦКАЯ</text>
<text class="e" x="792" y="954">ДОБРЫНИНСКАЯ</text>
<text class="e" x="758" y="1011">СЕРПУХОВСКАЯ</text>
<text x="705" y="1047">ТУЛЬСКАЯ</text>
<text x="818" y="1062">АВТОЗАВОДСКАЯ</text>
<text class="e" x="758" y="1081">НАГАТИНСКАЯ</text>
<text class="e" x="728" y="1111">НАГОРНАЯ</text>
<text class="e" x="728" y="1133">НАХИМОВСКИЙ</text>
<text class="e" x="728" y="1145">ПРОСПЕКТ</text>
<text class="e" x="725" y="1168">СЕВАСТОПОЛЬСКАЯ</text>
<text x="772" y="1197">КАХОВСКАЯ</text>
<text class="e" x="725" y="1197">ЧЕРТАНОВСКАЯ</text>
<text class="e" x="760" y="1232">ЮЖНАЯ</text>
<text class="e" x="760" y="1259">ПРАЖСКАЯ</text>
<text class="e" x="760" y="1284">УЛ. АКАДЕМИКА ЯНГЕЛЯ</text>
<text class="e" x="760" y="1311">АННИНО</text>
<text x="796" y="1335">БУЛЬВАР</text>
<text x="796" y="1347">ДМИТРИЯ ДОНСКОГО</text>
<text class="e" x="648" y="1326">ТЕХАВТОЦЕНТР ВАРШАВСКИЙ</text>
<text class="e" x="728" y="1352">УЛИЦА СТАРОКАЧАЛОВСКАЯ</text>
<text class="e" x="733" y="1384">УЛИЦА СКОБЕЛЕВСКАЯ</text>
<text class="e" x="733" y="1406">БУЛЬВАР АДМИРАЛА УШАКОВА</text>
<text class="e" x="733" y="1428">УЛИЦА ГОРЧАКОВА</text>
<text class="e" x="733" y="1450">БУНИНСКАЯ АЛЛЕЯ</text>
<text class="e" x="733" y="1473">ПОТАПОВО</text>
<text class="e" x="733" y="1495">ЧЕЧЕРСКИЙ ПРОЕЗД</text>
<text class="e" x="733" y="1517">НОВОКУРЬЯНОВО</text>
<text x="760" y="863">ТРЕТЬЯКОВСКАЯ</text>
<text class="e" x="740" y="883">ПОЛЯНКА</text>
<text x="778" y="920">НОВОКУЗНЕЦКАЯ</text>
<text x="727" y="837">КАДАШЕВСКАЯ</text>
<text x="655" y="828">ОСТОЖЕНКА</text>
<text x="633" y="817">БОРОВИЦКАЯ</text>
<text x="689" y="795">БИБЛИОТЕКА</text>
<text x="689" y="807">ИМ. ЛЕНИНА</text>
<text class="e" x="650" y="795">АРБАТСКАЯ</text>
<text class="e" x="627" y="731">АРБАТСКАЯ</text>
<text class="e" x="588" y="791">СМОЛЕНСКАЯ</text>
<text class="e" x="569" y="729">СМОЛЕНСКАЯ</text>
<text x="496" y="815">ПЛОЩАДЬ</text>
<text x="498" y="827">СВОБОДЫ</text>
<text x="528" y="852">СМОЛЕНСКАЯ</text>
<text x="506" y="872">КИЕВСКАЯ</text>
<text x="622" y="857">КРОПОТКИНСКАЯ</text>
<text x="580" y="909">ПАРК КУЛЬТУРЫ</text>
<text x="600" y="944">ОКТЯБРЬСКАЯ</text>
<text class="e" x="512" y="934">ФРУНЗЕНСКАЯ</text>
<text class="e" x="472" y="971">СПОРТИВНАЯ</text>
<text class="e" x="434" y="1011">ВОРОБЬЕВЫ ГОРЫ</text>
<text class="e" x="400" y="1048">УНИВЕРСИТЕТ</text>
<text class="e" x="346" y="1100">ЮГО-ЗАПАДНАЯ</text>
<text class="e" x="318" y="1138">ТРОПАРЕВО</text>
<text x="430" y="1089">ПРОСПЕКТ ВЕРНАДСКОГО</text>
<text class="e" x="652" y="1027">ШАБОЛОВСКАЯ</text>
<text class="e" x="628" y="1049">ЛЕНИНСКИЙ ПРОСПЕКТ</text>
<text class="e" x="607" y="1072">АКАДЕМИЧЕСКАЯ</text>
<text x="610" y="1101">ПРОФСОЮЗНАЯ</text>
<text class="e" x="563" y="1117">НОВЫЕ ЧЕРЕМУШКИ</text>
<text class="e" x="536" y="1140">КАЛУЖСКАЯ</text>
<text class="e" x="518" y="1167">БЕЛЯЕВО</text>
<text class="e" x="518" y="1196">КОНЬКОВО</text>
<text class="e" x="518" y="1229">ТЕПЛЫЙ СТАН</text>
<text class="e" x="543" y="1256">ЯСЕНЕВО</text>
<text class="e" x="566" y="1280">БИТЦЕВСКИЙ ПАРК</text>
<text x="348" y="1197" style="font-size:12px;text-anchor:middle;font-family:'Liberation Sans',sans-serif">Так будет выглядеть</text>
<text x="335" y="1212" style="font-size:12px;text-anchor:middle;font-family:'Liberation Sans',sans-serif">станция “Достоевская”.</text>
<text class="e" x="456" y="265">УЛИЦА ДЫБЕНКО</text>
<text class="e" x="456" y="301">БЕЛОМОРСКАЯ</text>
<text class="e" x="456" y="332">РЕЧНОЙ ВОКЗАЛ</text>
<text class="e" x="456" y="373">ВОДНЫЙ СТАДИОН</text>
<text class="e" x="456" y="414">ВОЙКОВСКАЯ</text>
<text class="e" x="450" y="439">СОКОЛ</text>
<text class="e" x="478" y="483">АЭРОПОРТ</text>
<text class="e" x="496" y="510">ДИНАМО</text>
<text x="560" y="531">БЕЛОРУССКАЯ</text>
<text x="498" y="562">ХОДЫНСКОЕ ПОЛЕ</text>
<text x="468" y="582">ОКТЯБРЬСКОЕ ПОЛЕ</text>
<text x="462" y="594">ПОЛЕЖАЕВСКАЯ</text>
<text x="535" y="608">МАЯКОВСКАЯ</text>
<text x="453" y="628">БЕГОВАЯ</text>
<text x="478" y="645">УЛИЦА 1905 ГОДА</text>
<text x="488" y="660">КРАСНОПРЕСНЕНСКАЯ</text>
<text x="456" y="704">БАРРИКАДНАЯ</text>
<text x="435" y="750">МЕЖДУНАРОДНАЯ</text>
<text class="e" x="353" y="428">ПЛАНЕРНАЯ</text>
<text class="e" x="353" y="469">СХОДНЕНСКАЯ</text>
<text class="e" x="353" y="511">ТУШИНСКАЯ</text>
<text class="e" x="432" y="548">ЩУКИНСКАЯ</text>
<text x="275" y="535">ЖИВОПИСНАЯ</text>
<text class="e" x="332" y="565">НАРОДНОЕ</text>
<text class="e" x="332" y="576">ОПОЛЧЕНИЕ</text>
<text class="e" x="392" y="604">КРАСНОПРЕСНЕНСКИЙ</text>
<text class="e" x="335" y="616">ПРОСПЕКТ</text>
<text class="e" x="350" y="635">СЕВЕРНАЯ</text>
<text class="e" x="368" y="650">МАГИСТРАЛЬНАЯ</text>
<text class="e" x="412" y="663">ЗВЕНИГОРОДСКОЕ</text>
<text class="e" x="412" y="675">ШОССЕ</text>
<text class="e" x="403" y="689">ОЛИМПИЙСКАЯ</text>
<text class="e" x="403" y="711">ШМИТОВСКАЯ</text>
<text class="e" x="405" y="734">ДЕЛОВОЙ ЦЕНТР</text>
<text class="e" x="370" y="750">ПИОНЕРСКАЯ</text>
<text class="e" x="418" y="775">ФИЛЕВСКИЙ ПАРК</text>
<text class="e" x="445" y="797">БАГРАТИОНОВСКАЯ</text>
<text class="e" x="402" y="821">ФИЛИ</text>
<text class="e" x="460" y="841">КУТУЗОВСКАЯ</text>
<text class="e" x="293" y="831">СЛАВЯНСКИЙ</text>
<text class="e" x="293" y="843">БУЛЬВАР</text>
<text class="e" x="320" y="862">ПАРК ПОБЕДЫ</text>
<text x="358" y="911">СУДЕНЧЕСКАЯ</text>
<text class="e" x="250" y="435">РОЖДЕСТВЕНО</text>
<text class="e" x="250" y="470">МИТИНО</text>
<text class="e" x="250" y="503">ВОЛОКОЛАМСКАЯ</text>
<text class="e" x="250" y="549">МЯКИНИНСКАЯ</text>
<text class="e" x="250" y="575">СТРОГИНО</text>
<text class="e" x="250" y="608">ТРОИЦЕ-ЛЫКОВО</text>
<text class="e" x="250" y="639">КРЫЛАТСКОЕ</text>
<text x="272" y="633">4</text>
<text class="e" x="250" y="682">МОЛОДЕЖНАЯ</text>
<text class="e" x="252" y="713">КУНЦЕВСКАЯ</text>
<text class="e" x="288" y="903">МОСФИЛЬМОВСКАЯ</text>
<text class="e" x="270" y="924">ЛОМОНОСОВСКИЙ ПРОСПЕКТ</text>
<text class="e" x="248" y="945">ВИННИЦКАЯ УЛИЦА</text>
<text class="e" x="222" y="964">МИЧУРИНСКИЙ ПРОСПЕКТ</text>
<text class="e" x="205" y="983">ОЧАКОВО</text>
<text class="e" x="190" y="1000">ОЛИМПИЙСКАЯ ДЕРЕВНЯ</text>
<text class="e" x="168" y="1023">ТЕРЕШКОВО</text>
<text class="e" x="150" y="1041">СОЛНЦЕВО</text>
<text class="e" x="132" y="1059">БОРОВСКОЕ ШОССЕ</text>
<text class="e" x="116" y="1077">НОВОПЕРЕДЕЛКИНО</text>
</g>
</svg>
</body></html>
